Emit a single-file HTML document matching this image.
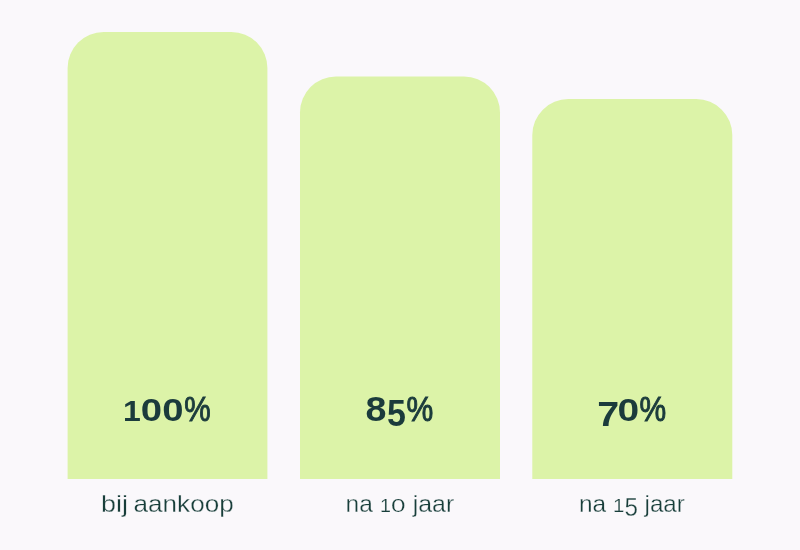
<!DOCTYPE html>
<html lang="nl">
<head>
<meta charset="utf-8">
<title>Capaciteit</title>
<style>
html,body{margin:0;padding:0;background:#faf8fb;}
body{width:800px;height:550px;overflow:hidden;font-family:"Liberation Sans",sans-serif;}
svg{display:block;}
text{font-family:"Liberation Sans",sans-serif;}
.pct{font-weight:700;fill:#1b3b3c;}
.lbl{font-weight:400;fill:#183e3a;stroke:#faf8fb;stroke-width:0.3px;}
</style>
</head>
<body>
<svg width="800" height="550" viewBox="0 0 800 550" role="img" aria-labelledby="t d">
<title id="t">Capaciteit zonnepanelen</title>
<desc id="d">100% bij aankoop, 85% na 10 jaar, 70% na 15 jaar</desc>
<rect x="0" y="0" width="800" height="550" fill="#faf8fb"/>
<g fill="#dcf3a8">
<path d="M67.6 479V68a36 36 0 0 1 36 -36H231.4a36 36 0 0 1 36 36V479Z"/>
<path d="M300 479V112.5a36 36 0 0 1 36 -36H464a36 36 0 0 1 36 36V479Z"/>
<path d="M532.3 479V135.1a36 36 0 0 1 36 -36H696.3a36 36 0 0 1 36 36V479Z"/>
</g>
<text aria-label="100%" class="pct"><tspan x="123.08" y="421.30" font-size="30.09" textLength="17.81" lengthAdjust="spacingAndGlyphs">1</tspan><tspan x="140.89" y="421.40" font-size="30.79" textLength="21.28" lengthAdjust="spacingAndGlyphs">0</tspan><tspan x="162.39" y="421.40" font-size="30.79" textLength="21.28" lengthAdjust="spacingAndGlyphs">0</tspan><tspan x="184.34" y="420.80" font-size="34.87" font-weight="400" stroke="#1b3b3c" stroke-width="1" textLength="26.42" lengthAdjust="spacingAndGlyphs">%</tspan></text>
<text aria-label="85%" class="pct"><tspan x="365.40" y="420.65" font-size="35.59" textLength="20.95" lengthAdjust="spacingAndGlyphs">8</tspan><tspan x="386.96" y="426.34" font-size="36.55" textLength="18.89" lengthAdjust="spacingAndGlyphs">5</tspan><tspan x="406.43" y="420.80" font-size="34.87" font-weight="400" stroke="#1b3b3c" stroke-width="1" textLength="26.74" lengthAdjust="spacingAndGlyphs">%</tspan></text>
<text aria-label="70%" class="pct"><tspan x="597.21" y="426.00" font-size="35.61" textLength="21.93" lengthAdjust="spacingAndGlyphs">7</tspan><tspan x="617.56" y="421.40" font-size="30.79" textLength="21.63" lengthAdjust="spacingAndGlyphs">0</tspan><tspan x="639.43" y="420.80" font-size="34.87" font-weight="400" stroke="#1b3b3c" stroke-width="1" textLength="26.64" lengthAdjust="spacingAndGlyphs">%</tspan></text>
<text aria-label="bij aankoop" class="lbl"><tspan x="101.06" y="511.90" font-size="24.50" textLength="26.95" lengthAdjust="spacingAndGlyphs">bij</tspan> <tspan x="133.59" y="511.90" font-size="24.50" textLength="100.10" lengthAdjust="spacingAndGlyphs">aankoop</tspan></text>
<text aria-label="na 10 jaar" class="lbl"><tspan x="345.57" y="511.90" font-size="24.50" textLength="27.23" lengthAdjust="spacingAndGlyphs">na</tspan> <tspan x="380.00" y="511.90" font-size="18.75" stroke-width="0.2" textLength="10.96" lengthAdjust="spacingAndGlyphs">1</tspan><tspan x="390.98" y="512.02" font-size="18.93" stroke-width="0.2" textLength="14.54" lengthAdjust="spacingAndGlyphs">0</tspan> <tspan x="412.71" y="511.90" font-size="24.50" textLength="41.51" lengthAdjust="spacingAndGlyphs">jaar</tspan></text>
<text aria-label="na 15 jaar" class="lbl"><tspan x="578.88" y="511.90" font-size="24.50" textLength="27.12" lengthAdjust="spacingAndGlyphs">na</tspan> <tspan x="612.95" y="511.90" font-size="18.75" stroke-width="0.2" textLength="11.35" lengthAdjust="spacingAndGlyphs">1</tspan><tspan x="624.53" y="515.96" font-size="25.08" textLength="13.49" lengthAdjust="spacingAndGlyphs">5</tspan> <tspan x="644.59" y="511.90" font-size="24.50" textLength="40.21" lengthAdjust="spacingAndGlyphs">jaar</tspan></text>
</svg>
</body>
</html>
